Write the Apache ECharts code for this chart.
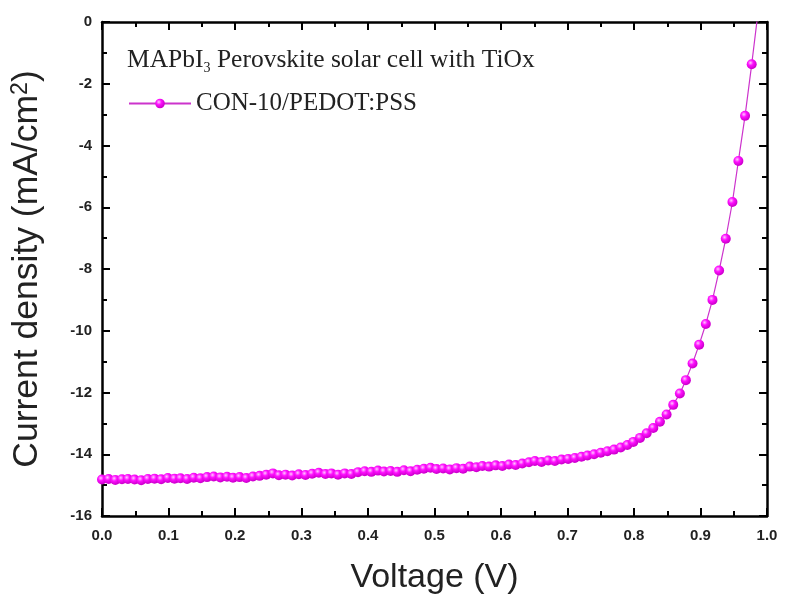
<!DOCTYPE html>
<html>
<head>
<meta charset="utf-8">
<script src="https://cdn.jsdelivr.net/npm/echarts@6/dist/echarts.min.js"></script>
<style>html,body{margin:0;padding:0;background:#fff}#c{width:789px;height:601px}</style>
</head>
<body>
<div id="c"></div>
<script>
const voltage = [0.000,0.010,0.020,0.030,0.039,0.049,0.059,0.069,0.079,0.089,
0.099,0.109,0.118,0.128,0.138,0.148,0.158,0.168,0.178,0.188,
0.197,0.207,0.217,0.227,0.237,0.247,0.257,0.266,0.276,0.286,
0.296,0.306,0.316,0.326,0.336,0.345,0.355,0.365,0.375,0.385,
0.395,0.405,0.415,0.424,0.434,0.444,0.454,0.464,0.474,0.484,
0.494,0.503,0.513,0.523,0.533,0.543,0.553,0.563,0.572,0.582,
0.592,0.602,0.612,0.622,0.632,0.642,0.651,0.661,0.671,0.681,
0.691,0.701,0.711,0.721,0.730,0.740,0.750,0.760,0.770,0.780,
0.790,0.799,0.809,0.819,0.829,0.839,0.849,0.859,0.869,0.878,
0.888,0.898,0.908,0.918,0.928,0.938,0.948,0.957,0.967,0.977,0.987];
const currentDensity = [-14.82,-14.80,-14.83,-14.81,-14.80,-14.82,-14.84,-14.80,-14.79,-14.81,
-14.77,-14.79,-14.78,-14.80,-14.76,-14.78,-14.74,-14.72,-14.75,-14.73,
-14.76,-14.74,-14.77,-14.72,-14.70,-14.66,-14.62,-14.68,-14.66,-14.69,
-14.65,-14.67,-14.63,-14.60,-14.64,-14.62,-14.66,-14.62,-14.64,-14.58,
-14.55,-14.57,-14.53,-14.56,-14.54,-14.57,-14.52,-14.55,-14.50,-14.47,
-14.44,-14.48,-14.46,-14.49,-14.45,-14.47,-14.40,-14.42,-14.38,-14.40,
-14.36,-14.38,-14.33,-14.35,-14.30,-14.26,-14.22,-14.25,-14.20,-14.22,
-14.17,-14.15,-14.12,-14.08,-14.04,-14.00,-13.95,-13.90,-13.85,-13.78,
-13.70,-13.60,-13.47,-13.32,-13.15,-12.95,-12.71,-12.40,-12.03,-11.60,
-11.06,-10.45,-9.78,-9.00,-8.05,-7.02,-5.83,-4.50,-3.04,-1.37,0.40];
const seriesName = 'CON-10/PEDOT:PSS';
const xTitle = 'Voltage (V)';
const yTitle = 'Current density (mA/cm{sup|2})';

const chart = echarts.init(document.getElementById('c'), null, {renderer: 'canvas'});
const axisLine = {show: true, onZero: false, lineStyle: {color: '#000', width: 2.5}};
const tickStyle = {color: '#000', width: 2};
const labelFont = {color: '#222', fontFamily: 'Liberation Sans, Arial, sans-serif', fontWeight: 'bold', fontSize: 15};
const sans = 'Liberation Sans, Arial, sans-serif';
const serif = 'Liberation Serif, Times New Roman, serif';
const xBase = {
  type: 'value', min: 0, max: 1, interval: 0.1,
  axisLine: axisLine,
  axisTick: {show: true, inside: true, length: 8, lineStyle: tickStyle},
  minorTick: {show: true, splitNumber: 2, length: 5, lineStyle: tickStyle},
  splitLine: {show: false}
};
const yBase = {
  type: 'value', min: -16, max: 0, interval: 2,
  axisLine: axisLine,
  axisTick: {show: true, inside: true, length: 8, lineStyle: tickStyle},
  minorTick: {show: true, splitNumber: 2, length: 5, lineStyle: tickStyle},
  splitLine: {show: false}
};
const data = voltage.map((v, i) => [v, currentDensity[i]]);
chart.setOption({
  backgroundColor: '#fff',
  animation: false,
  grid: {left: 102, right: 22, top: 22, bottom: 85},
  xAxis: [
    Object.assign({}, xBase, {
      position: 'bottom',
      name: xTitle, nameLocation: 'middle', nameGap: 45,
      nameTextStyle: {color: '#222', fontFamily: sans, fontSize: 34},
      axisLabel: Object.assign({margin: 12, formatter: v => v.toFixed(1)}, labelFont)
    }),
    Object.assign({}, xBase, {position: 'top', axisLabel: {show: false}})
  ],
  yAxis: [
    Object.assign({}, yBase, {
      position: 'left',
      name: yTitle, nameLocation: 'middle', nameGap: 56,
      nameTextStyle: {color: '#222', fontFamily: sans, fontSize: 35.5,
        rich: {sup: {fontFamily: sans, fontSize: 23, color: '#222', verticalAlign: 'top', padding: [0, 0, 14, 0]}}},
      axisLabel: Object.assign({margin: 10}, labelFont)
    }),
    Object.assign({}, yBase, {position: 'right', axisLabel: {show: false}})
  ],
  legend: {
    show: true, left: 123, top: 86, itemWidth: 62, itemHeight: 12, itemGap: 6,
    textStyle: {color: '#222', fontFamily: serif, fontSize: 25},
    data: [seriesName]
  },
  graphic: [{
    type: 'text', left: 127, top: 47,
    style: {
      text: '{a|MAPbI}{s|3}{a| Perovskite solar cell with TiOx}',
      rich: {
        a: {fontFamily: serif, fontSize: 25.5, fill: '#222'},
        s: {fontFamily: serif, fontSize: 14, fill: '#222', padding: [16, 0, 0, 0]}
      }
    }
  }],
  series: [{
    name: seriesName,
    type: 'line',
    xAxisIndex: 0, yAxisIndex: 0,
    data: data,
    clip: true,
    symbol: 'circle', symbolSize: 10,
    lineStyle: {color: '#cc33cc', width: 1.2},
    itemStyle: {
      color: {type: 'radial', x: 0.38, y: 0.35, r: 0.6, colorStops: [
        {offset: 0, color: '#ffc8ff'}, {offset: 0.45, color: '#ff10ff'}, {offset: 1, color: '#d000d0'}]},
      borderWidth: 0
    }
  }]
});
</script>
</body>
</html>
